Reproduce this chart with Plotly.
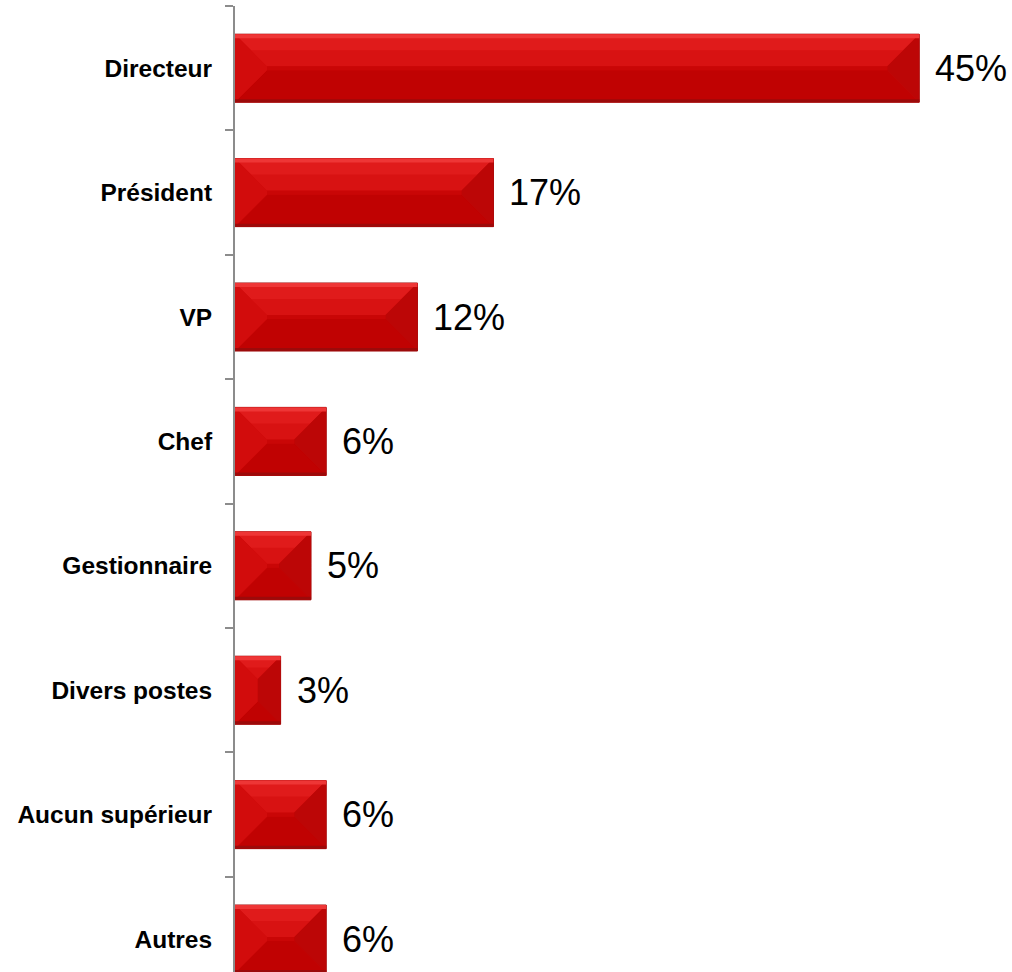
import plotly.graph_objects as go

categories = ["Directeur", "Président", "VP", "Chef", "Gestionnaire",
              "Divers postes", "Aucun supérieur", "Autres"]
values = [45, 17, 12, 6, 5, 3, 6, 6]

W, H = 1012, 972
ML, MR, MT, MB = 235, 0, 6, 0
XMAX = 51.1
Y_RANGE = [7.265, -0.5]
BAR_W = 0.547

px_x = (W - ML - MR) / XMAX
px_y = (H - MT - MB) / (Y_RANGE[0] - Y_RANGE[1])

idx = list(range(len(categories)))

fig = go.Figure()
fig.add_trace(go.Bar(
    x=values, y=idx, orientation="h", width=BAR_W,
    marker=dict(color="#C80808", line=dict(color="#A00E0E", width=1)),
    hoverinfo="skip", showlegend=False,
))

facets = {"top": [[], []], "top2": [[], []], "bottom": [[], []], "left": [[], []],
          "right": [[], []], "face": [[], []], "hl": [[], []], "edge": [[], []]}

def add(name, pts):
    xs, ys = facets[name]
    for p in pts:
        xs.append(p[0]); ys.append(p[1])
    xs.append(pts[0][0]); ys.append(pts[0][1])
    xs.append(None); ys.append(None)

for i, v in zip(idx, values):
    hh = BAR_W / 2
    w_px = v * px_x
    h_px = BAR_W * px_y
    d = min(32, w_px / 2, h_px / 2)
    dx, dy = d / px_x, d / px_y
    x0, x1 = 0, v
    yt, yb = i - hh, i + hh
    ix0, ix1 = x0 + dx, x1 - dx
    iyt, iyb = yt + dy, yb - dy
    add("top", [(x0, yt), (x1, yt), (ix1, iyt), (ix0, iyt)])
    # lower part of top bevel slightly darker (gradient feel)
    m = 0.5
    mx0, mx1, my = x0 + dx * m, x1 - dx * m, yt + dy * m
    add("top2", [(mx0, my), (mx1, my), (ix1, iyt), (ix0, iyt)])
    add("bottom", [(x0, yb), (x1, yb), (ix1, iyb), (ix0, iyb)])
    add("left", [(x0, yt), (ix0, iyt), (ix0, iyb), (x0, yb)])
    add("right", [(x1, yt), (ix1, iyt), (ix1, iyb), (x1, yb)])
    if ix1 > ix0 and iyb > iyt:
        add("face", [(ix0, iyt), (ix1, iyt), (ix1, iyb), (ix0, iyb)])
    hy = 4 / px_y
    add("hl", [(x0, yt), (x1, yt), (x1, yt + hy), (x0, yt + hy)])
    ey = 3 / px_y
    add("edge", [(x0, yb - ey), (x1, yb - ey), (x1, yb), (x0, yb)])

colors = {"top": "#E01B1B", "top2": "#D81212", "bottom": "#C00202", "left": "#D20C0C",
          "right": "#BC0606", "face": "#C90606", "hl": "#EE3636", "edge": "#9C0A0A"}
for name in ["top", "top2", "bottom", "left", "right", "face", "hl", "edge"]:
    xs, ys = facets[name]
    if not xs:
        continue
    fig.add_trace(go.Scatter(
        x=xs, y=ys, mode="lines", fill="toself", fillcolor=colors[name],
        line=dict(width=0, color=colors[name]), hoverinfo="skip", showlegend=False,
    ))

annotations = []
for i, v in zip(idx, values):
    annotations.append(dict(
        x=v, y=i, xref="x", yref="y", text=f"{v}%", showarrow=False,
        xanchor="left", yanchor="middle", xshift=14,
        font=dict(family="Liberation Sans", size=36, color="black"),
    ))

fig.update_layout(
    width=W, height=H,
    margin=dict(l=ML, r=MR, t=MT, b=MB, pad=0),
    paper_bgcolor="white", plot_bgcolor="white",
    annotations=annotations,
    xaxis=dict(range=[0, XMAX], visible=False, showgrid=False, zeroline=False),
    yaxis=dict(
        range=Y_RANGE, tickmode="array", tickvals=idx, ticktext=categories,
        ticks="", showgrid=False, zeroline=False,
        showline=True, linecolor="#8C8C8C", linewidth=2,
        tickfont=dict(family="Liberation Sans", size=24.5, color="black", weight="bold"),
        ticklabelstandoff=16,
        minor=dict(ticks="outside", ticklen=8, tickwidth=2, tickcolor="#8C8C8C",
                   tickmode="array", tickvals=[k - 0.5 for k in idx], showgrid=False),
    ),
)

fig.write_html("out.html")
